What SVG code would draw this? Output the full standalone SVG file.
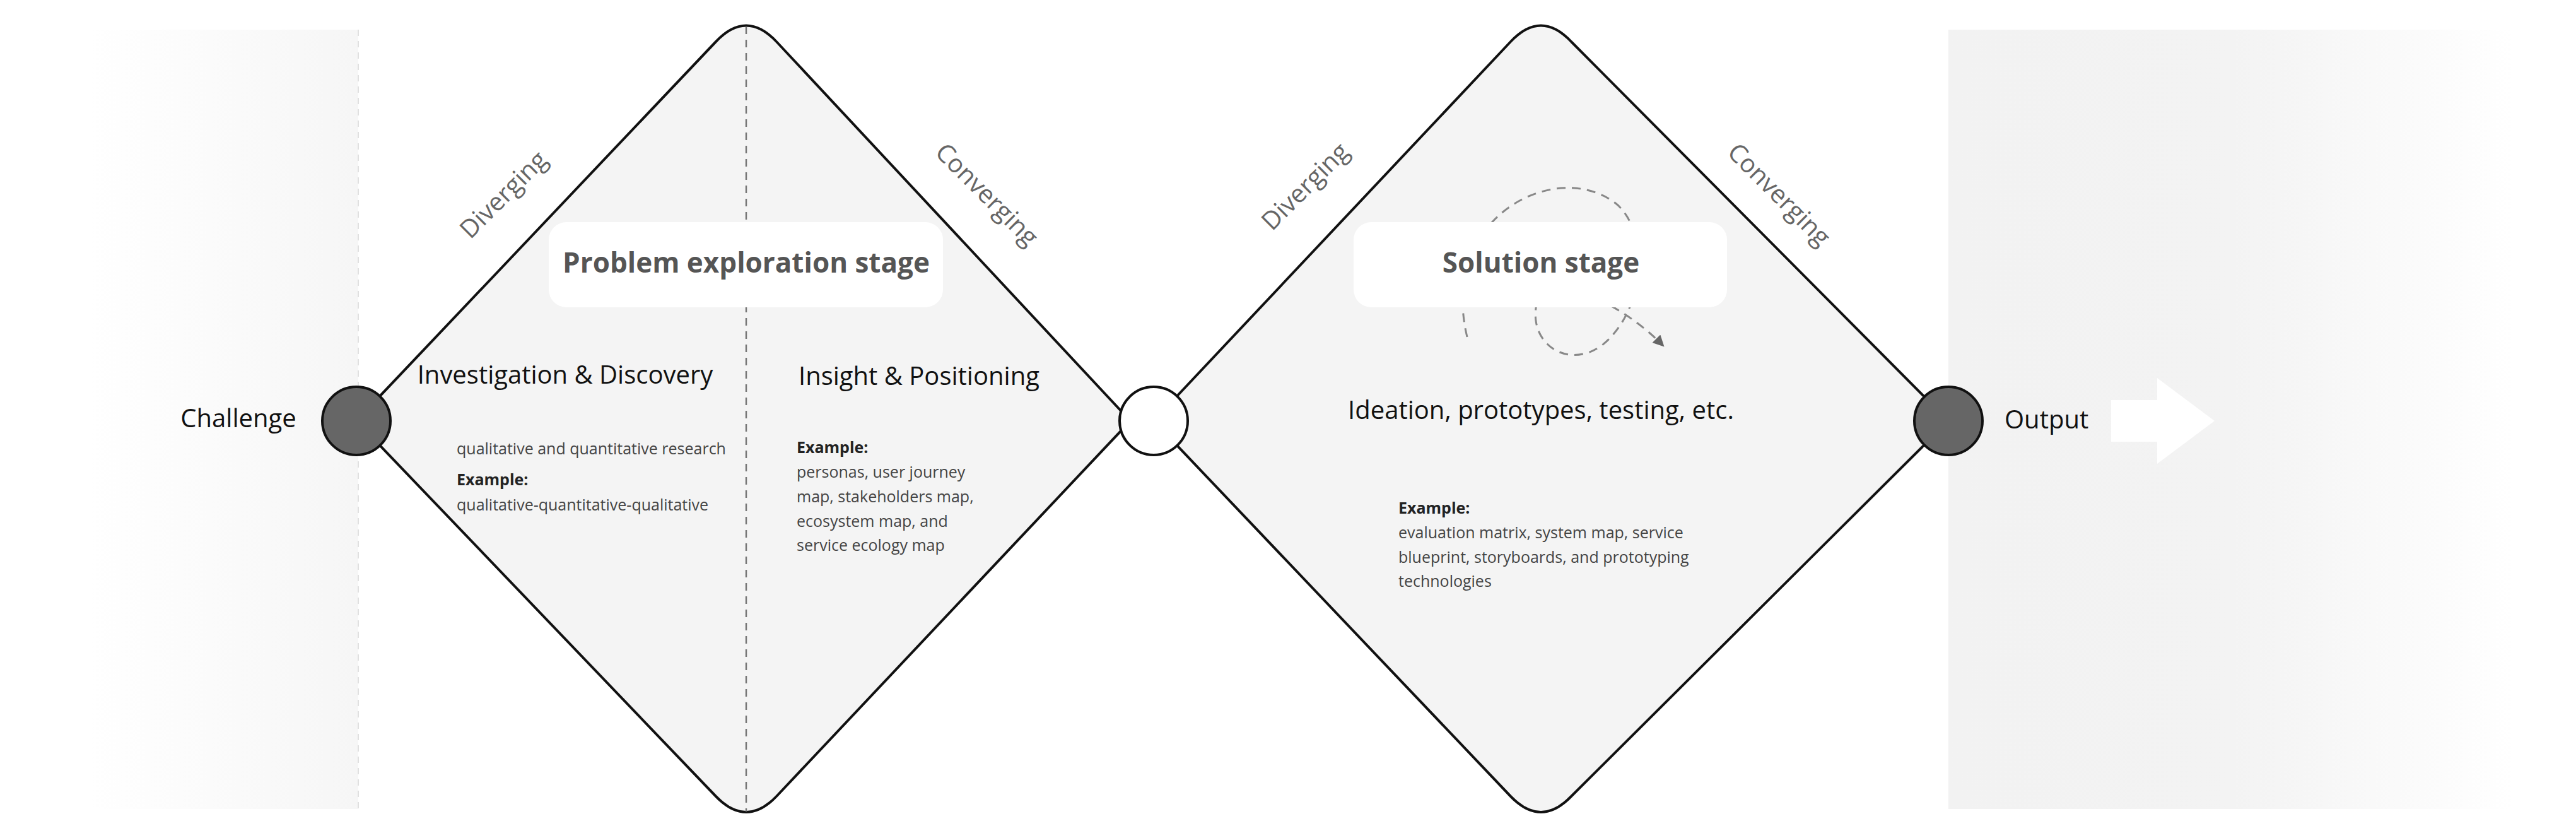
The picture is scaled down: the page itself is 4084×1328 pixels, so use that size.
<svg xmlns="http://www.w3.org/2000/svg" width="4084" height="1328" viewBox="0 0 4084 1328">
<defs>
<linearGradient id="gl" x1="0" x2="1" y1="0" y2="0"><stop offset="0" stop-color="#ffffff"/><stop offset="1" stop-color="#f6f6f6"/></linearGradient>
<linearGradient id="gr" x1="0" x2="1" y1="0" y2="0"><stop offset="0" stop-color="#f2f2f2"/><stop offset="0.5" stop-color="#f3f3f3"/><stop offset="1" stop-color="#ffffff"/></linearGradient>
<marker id="ah" viewBox="0 0 10 10" refX="8" refY="5" markerWidth="6" markerHeight="6" orient="auto"><path d="M0,0 L10,5 L0,10 z" fill="#666"/></marker>
<style>
.dia{fill:#f4f4f4;stroke:#111;stroke-width:4}
.t{font-family:"Open Sans","Noto Sans",sans-serif;fill:#111}
.lab{font-family:"Open Sans","Noto Sans",sans-serif;fill:#666;font-size:40px}
.sm{font-family:"Open Sans","Noto Sans",sans-serif;fill:#444;font-size:25px}
.smb{font-family:"Open Sans","Noto Sans",sans-serif;fill:#222;font-size:25px;font-weight:bold}
.box{fill:#fff}
.bt{font-family:"Open Sans","Noto Sans",sans-serif;fill:#555;font-size:44px;font-weight:bold}
</style>
</defs>
<rect x="143" y="47" width="425" height="1235" fill="url(#gl)"/>
<line x1="568" y1="47" x2="568" y2="1282" stroke="#e0e0e0" stroke-width="2" stroke-dasharray="10,8"/>
<rect x="3089" y="47" width="897" height="1235" fill="url(#gr)"/>
<g id="diamond1">
<path class="dia" d="M565,667 L1135,66 Q1183,15 1231,66 L1792,667 L1231,1262 Q1183,1312 1135,1262 Z"/>
<line x1="1183" y1="42" x2="1183" y2="1286" stroke="#777" stroke-width="2.5" stroke-dasharray="12,9"/>
</g>
<g id="diamond2">
<path class="dia" d="M1829,667 L2395,66 Q2443,15 2491,66 L3089,667 L2491,1262 Q2443,1312 2395,1262 Z"/>
</g>
<g id="connectors">
<path d="M2326,534 C2279,339 2475,247 2566,326 C2618,378 2605,495 2540,547 C2488,586 2423,547 2436,482 C2449,430 2560,470 2636,547" fill="none" stroke="#888" stroke-width="3" stroke-dasharray="14,10" marker-end="url(#ah)"/>
</g>
<g id="box1"><rect class="box" x="870" y="352" width="625" height="135" rx="28"/><text class="bt" x="1183" y="432" text-anchor="middle">Problem exploration stage</text></g>
<g id="box2"><rect class="box" x="2146" y="352" width="592" height="135" rx="28"/><text class="bt" x="2443" y="432" text-anchor="middle">Solution stage</text></g>
<g id="labels">
<text class="lab" transform="translate(808,318) rotate(-45)" text-anchor="middle">Diverging</text>
<text class="lab" transform="translate(1555,318) rotate(45)" text-anchor="middle">Converging</text>
<text class="lab" transform="translate(2079,305) rotate(-45)" text-anchor="middle">Diverging</text>
<text class="lab" transform="translate(2811,318) rotate(45)" text-anchor="middle">Converging</text>
</g>
<g id="challenge"><circle cx="565" cy="667" r="54" fill="#666" stroke="#111" stroke-width="4"/><text class="t" font-size="40" x="378" y="677" text-anchor="middle">Challenge</text></g>
<g id="mid"><circle cx="1829" cy="667" r="54" fill="#fff" stroke="#111" stroke-width="4"/></g>
<g id="output"><circle cx="3089" cy="667" r="54" fill="#666" stroke="#111" stroke-width="4"/><text class="t" font-size="40" x="3178" y="679">Output</text>
<path d="M3347,634 L3420,634 L3420,599 L3511,667 L3420,735 L3420,700 L3347,700 Z" fill="#fff"/></g>
<g id="investigation">
<text class="t" font-size="40" x="896" y="608" text-anchor="middle">Investigation &amp; Discovery</text>
<text class="sm" x="724" y="720">qualitative and quantitative research</text>
<text class="smb" x="724" y="769">Example:</text>
<text class="sm" x="724" y="809">qualitative-quantitative-qualitative</text>
</g>
<g id="insight">
<text class="t" font-size="40" x="1266" y="610">Insight &amp; Positioning</text>
<text class="smb" x="1263" y="718">Example:</text>
<text class="sm" x="1263" y="757">personas, user journey</text>
<text class="sm" x="1263" y="796">map, stakeholders map,</text>
<text class="sm" x="1263" y="835">ecosystem map, and</text>
<text class="sm" x="1263" y="873">service ecology map</text>
</g>
<g id="ideation">
<text class="t" font-size="40" x="2443" y="664" text-anchor="middle">Ideation, prototypes, testing, etc.</text>
<text class="smb" x="2217" y="814">Example:</text>
<text class="sm" x="2217" y="853">evaluation matrix, system map, service</text>
<text class="sm" x="2217" y="892">blueprint, storyboards, and prototyping</text>
<text class="sm" x="2217" y="930">technologies</text>
</g>
</svg>
